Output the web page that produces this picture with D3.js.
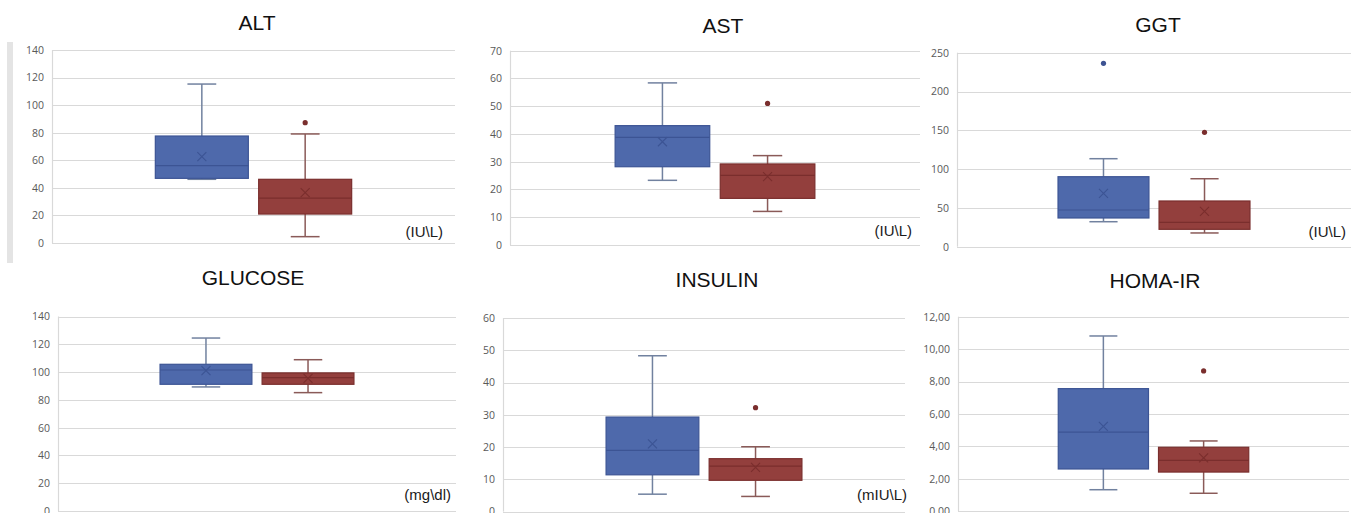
<!DOCTYPE html>
<html>
<head>
<meta charset="utf-8">
<script src="https://cdn.jsdelivr.net/npm/d3@7"></script>
<style>
  html, body { margin: 0; padding: 0; background: #fff; }
  svg { display: block; }
</style>
</head>
<body>
<svg id="chart" width="1351" height="513"></svg>
<script>
// ---------- DATA ----------
const panelTitles = ["ALT", "AST", "GGT", "GLUCOSE", "INSULIN", "HOMA-IR"];
const unitLabels = ["(IU\\L)", "(IU\\L)", "(IU\\L)", "(mg\\dl)", "(mIU\\L)", ""];
const groups = ["Group A", "Group B"];
const yMaxes = [140, 70, 250, 140, 60, 12];
const ySteps = [20, 10, 50, 20, 10, 2];
// stats per panel: [min, q1, median, q3, max, mean]
const groupAStats = [
  [46.2, 46.9, 56.1, 77.6, 115.3, 62.6],
  [23.3, 28.2, 38.8, 43.0, 58.4, 37.2],
  [32.2, 37.0, 47.3, 90.2, 113.4, 68.8],
  [89.3, 91.2, 101.5, 105.6, 124.5, 101.0],
  [5.4, 11.4, 19.0, 29.3, 48.3, 21.0],
  [1.32, 2.60, 4.88, 7.56, 10.81, 5.23]
];
const groupBStats = [
  [4.6, 21.0, 32.6, 46.2, 79.1, 36.5],
  [12.1, 16.8, 25.1, 29.2, 32.2, 24.6],
  [17.7, 22.4, 31.4, 58.9, 87.6, 45.6],
  [85.2, 91.2, 96.0, 99.4, 108.9, 95.5],
  [4.7, 9.7, 14.1, 16.4, 20.1, 13.7],
  [1.10, 2.41, 3.13, 3.94, 4.33, 3.28]
];
const groupAOutliers = [[], [], [236.3], [], [], []];
const groupBOutliers = [[87.3], [51.0], [147.4], [], [32.2], [8.65]];

// ---------- LAYOUT ----------
const plots = [
  {l: 52, r: 455, t: 50, b: 243, titleX: 257, titleY: 30, unitX: 443, unitY: 237},
  {l: 510, r: 920, t: 50.7, b: 245, titleX: 723, titleY: 33, unitX: 912, unitY: 236},
  {l: 957, r: 1351, t: 52.7, b: 246.7, titleX: 1158, titleY: 32, unitX: 1346, unitY: 237},
  {l: 58, r: 456, t: 316.5, b: 511, titleX: 253, titleY: 285, unitX: 451, unitY: 500},
  {l: 503, r: 905, t: 318, b: 511.6, titleX: 717, titleY: 287, unitX: 907, unitY: 500},
  {l: 958, r: 1349, t: 316.7, b: 511.1, titleX: 1155, titleY: 288, unitX: 1346, unitY: 500}
];
const styles = [
  {fill: "#4e69ab", stroke: "#3c5494", whisker: "#71819f", dot: "#3d5392"},
  {fill: "#933f3d", stroke: "#7a2e2d", whisker: "#8a5a58", dot: "#7a2e2d"}
];
const gridColor = "#d9d9d9";
const commaFmt = d3.formatLocale({decimal: ",", thousands: ".", grouping: [3], currency: ["", ""]}).format(".2f");

const svg = d3.select("#chart");

// decorative gray bar on the far left
svg.append("rect").attr("x", 7).attr("y", 42).attr("width", 6).attr("height", 221).attr("fill", "#e4e4e4");

panelTitles.forEach((title, i) => {
  const p = plots[i];
  const g = svg.append("g");
  const y = d3.scaleLinear().domain([0, yMaxes[i]]).range([p.b, p.t]);
  const ticks = d3.range(0, yMaxes[i] + ySteps[i] / 2, ySteps[i]);
  const x = d3.scaleBand().domain(groups).range([p.l, p.r]).paddingInner(0.1).paddingOuter(1.0);

  // gridlines
  g.selectAll("line.grid").data(ticks).join("line")
    .attr("class", "grid")
    .attr("x1", p.l).attr("x2", p.r)
    .attr("y1", d => Math.round(y(d)) + 0.5).attr("y2", d => Math.round(y(d)) + 0.5)
    .attr("stroke", gridColor).attr("stroke-width", 1.2);
  g.append("line")
    .attr("x1", p.l + 0.5).attr("x2", p.l + 0.5)
    .attr("y1", y(yMaxes[i])).attr("y2", y(0))
    .attr("stroke", gridColor).attr("stroke-width", 1.2);

  // y axis labels
  const axis = d3.axisLeft(y).tickValues(ticks).tickSize(0).tickPadding(8)
    .tickFormat(i === 5 ? commaFmt : d3.format("d"));
  const ax = g.append("g").attr("transform", `translate(${p.l},0)`).call(axis);
  ax.select(".domain").remove();
  ax.selectAll("text")
    .attr("font-family", "'Open Sans', 'Liberation Sans', sans-serif")
    .attr("font-size", 10.5).attr("fill", "#595959");

  // title
  svg.append("text").attr("x", p.titleX).attr("y", p.titleY)
    .attr("text-anchor", "middle")
    .attr("font-family", "'Liberation Sans', Arial, sans-serif")
    .attr("font-size", 21).attr("fill", "#111").text(title);

  // unit label
  if (unitLabels[i]) {
    svg.append("text").attr("x", p.unitX).attr("y", p.unitY)
      .attr("text-anchor", "end")
      .attr("font-family", "'Liberation Sans', Arial, sans-serif")
      .attr("font-size", 15).attr("fill", "#1a1a1a").text(unitLabels[i]);
  }

  // boxes
  const statsList = [groupAStats[i], groupBStats[i]];
  const outList = [groupAOutliers[i], groupBOutliers[i]];
  groups.forEach((grp, k) => {
    const [mn, q1, med, q3, mx, mean] = statsList[k];
    const st = styles[k];
    const x0 = x(grp), w = x.bandwidth(), cx = x0 + w / 2;
    const capW = w * 0.31;
    const bg = g.append("g");
    // whiskers
    bg.append("line").attr("x1", cx).attr("x2", cx).attr("y1", y(q3)).attr("y2", y(mx))
      .attr("stroke", st.whisker).attr("stroke-width", 1.5);
    bg.append("line").attr("x1", cx).attr("x2", cx).attr("y1", y(q1)).attr("y2", y(mn))
      .attr("stroke", st.whisker).attr("stroke-width", 1.5);
    [mn, mx].forEach(v => {
      bg.append("line").attr("x1", cx - capW / 2).attr("x2", cx + capW / 2)
        .attr("y1", y(v)).attr("y2", y(v))
        .attr("stroke", st.whisker).attr("stroke-width", 1.5);
    });
    // box
    bg.append("rect").attr("x", x0).attr("y", y(q3)).attr("width", w).attr("height", y(q1) - y(q3))
      .attr("fill", st.fill).attr("stroke", st.stroke).attr("stroke-width", 1.2);
    // median
    bg.append("line").attr("x1", x0).attr("x2", x0 + w).attr("y1", y(med)).attr("y2", y(med))
      .attr("stroke", st.stroke).attr("stroke-width", 1.2);
    // mean marker
    const m = 4.5, my = y(mean);
    bg.append("path").attr("d", `M${cx - m},${my - m}L${cx + m},${my + m}M${cx - m},${my + m}L${cx + m},${my - m}`)
      .attr("stroke", st.stroke).attr("stroke-width", 1.1).attr("fill", "none");
    // outliers
    bg.selectAll("circle").data(outList[k]).join("circle")
      .attr("cx", cx).attr("cy", d => y(d)).attr("r", 2.6).attr("fill", st.dot);
  });
});
</script>
</body>
</html>
